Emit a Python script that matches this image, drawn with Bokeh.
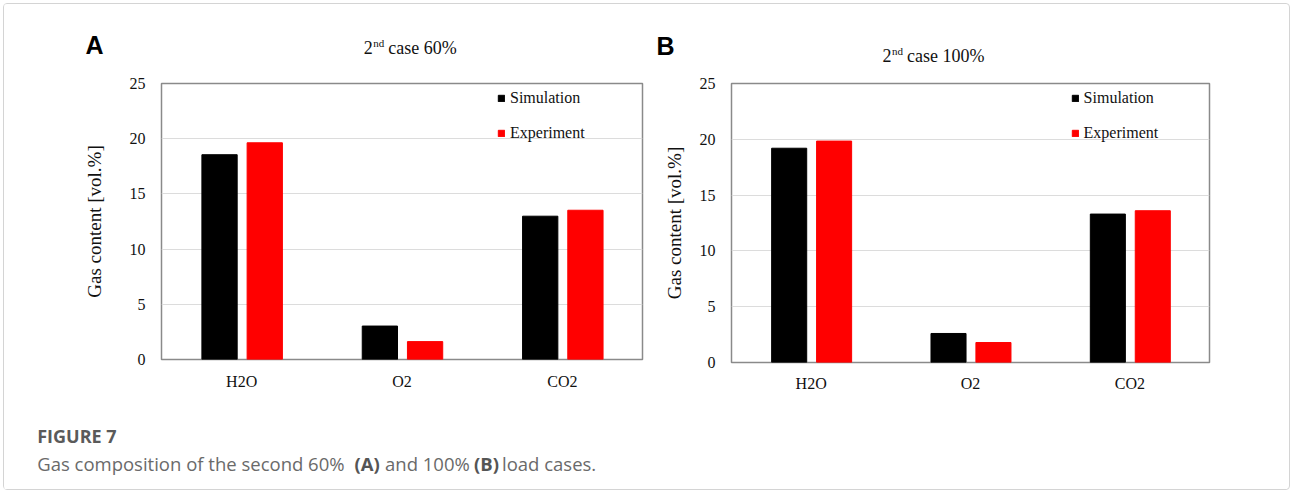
from bokeh.plotting import figure
from bokeh.models import (Range1d, FactorRange, FixedTicker, Legend, LegendItem,
                          Label, ColumnDataSource)
from bokeh.transform import dodge
from bokeh.layouts import row, column
from bokeh.embed import file_html
from bokeh.resources import INLINE

# ---------------- data ----------------
gases = ["H2O", "O2", "CO2"]
sim_60 = [18.55, 3.03, 12.98]
exp_60 = [19.63, 1.62, 13.52]
sim_100 = [19.2, 2.6, 13.3]
exp_100 = [19.84, 1.79, 13.6]
y_ticks = [0, 5, 10, 15, 20, 25]
series_names = ["Simulation", "Experiment"]
series_colors = ["#000000", "#ff0000"]
panel_letters = ["A", "B"]
panel_titles = ["case 60%", "case 100%"]
y_title = "Gas content [vol.%]"
caption_head = "FIGURE 7"
caption_parts = ["Gas composition of the second 60%", "(A)", "and 100%", "(B)", "load cases."]

SERIF = "Liberation Serif"
SANS = "Liberation Sans"
CAP = "Open Sans"
W = 1283


def make_panel(sim, exp, g):
    src = ColumnDataSource(dict(gas=gases, sim=sim, exp=exp))
    p = figure(title=None, x_range=FactorRange(*gases), y_range=Range1d(0, 25),
               frame_width=g["fw"], frame_height=g["fh"],
               min_border_left=g["bl"], min_border_right=g["br"],
               min_border_top=g["bt"], min_border_bottom=g["bb"],
               output_backend="svg", toolbar_location=None,
               background_fill_color="white", border_fill_color="white")
    r1 = p.vbar(x=dodge("gas", -0.138, range=p.x_range), top="sim", width=0.22,
                source=src, fill_color=series_colors[0], line_color=series_colors[0])
    r2 = p.vbar(x=dodge("gas", 0.144, range=p.x_range), top="exp", width=0.22,
                source=src, fill_color=series_colors[1], line_color=series_colors[1])

    p.outline_line_color = "#8a8a8a"
    p.outline_line_width = 1.5
    p.xgrid.grid_line_color = None
    p.ygrid.grid_line_color = "#dcdcdc"
    p.ygrid.grid_line_width = 1
    p.yaxis.ticker = FixedTicker(ticks=y_ticks)
    for ax in (p.xaxis[0], p.yaxis[0]):
        ax.axis_line_color = None
        ax.major_tick_line_color = None
        ax.minor_tick_line_color = None
        ax.major_label_text_font = SERIF
        ax.major_label_text_font_size = "16px"
        ax.major_label_text_color = "#111111"
    p.yaxis.major_label_standoff = g["ystand"]
    p.xaxis.major_label_standoff = g["xstand"]
    p.yaxis.axis_label = y_title
    p.yaxis.axis_label_text_font = SERIF
    p.yaxis.axis_label_text_font_size = "19px"
    p.yaxis.axis_label_text_font_style = "normal"
    p.yaxis.axis_label_text_color = "#111111"
    p.yaxis.axis_label_standoff = g["lstand"]

    leg = Legend(items=[LegendItem(label=series_names[0], renderers=[r1]),
                        LegendItem(label=series_names[1], renderers=[r2])],
                 location=g["legloc"], orientation="vertical",
                 padding=0, margin=0, spacing=15,
                 glyph_width=8, glyph_height=8, label_height=20,
                 label_standoff=5, label_text_font=SERIF,
                 label_text_font_size="16px", label_text_color="#111111",
                 border_line_color=None, background_fill_alpha=0)
    p.add_layout(leg)
    return p


gA = dict(fw=481, fh=276, bl=157, br=18, bt=12, bb=42, ystand=10, xstand=7,
          lstand=22, legloc=(336, 216))
gB = dict(fw=478, fh=279, bl=69, br=80, bt=16, bb=35, ystand=10, xstand=6,
          lstand=12, legloc=(339.6, 219))

pA = make_panel(sim_60, exp_60, gA)
pB = make_panel(sim_100, exp_100, gB)


def bare(h):
    return figure(title=None, width=W, height=h, x_range=Range1d(0, W),
                  y_range=Range1d(0, h), x_axis_type=None, y_axis_type=None,
                  min_border=0, output_backend="svg", toolbar_location=None,
                  outline_line_color=None, background_fill_color="white",
                  border_fill_color="white")


# ---------------- header: panel letters and titles ----------------
pH = bare(63)
for letter, (lx, ly) in zip(panel_letters, [(81, 22.7), (652, 22)]):
    pH.add_layout(Label(x=lx, y=ly, x_units="screen", y_units="screen", text=letter,
                        text_font=SANS, text_font_style="bold", text_font_size="25px",
                        text_baseline="alphabetic", text_color="black"))
for rest, (tx, ty) in zip(panel_titles, [(359.3, 19.7), (878, 11.7)]):
    pH.add_layout(Label(x=tx, y=ty, x_units="screen", y_units="screen", text="2",
                        text_font=SERIF, text_font_size="18px",
                        text_baseline="alphabetic", text_color="#111111"))
    pH.add_layout(Label(x=tx + 9.4, y=ty + 5, x_units="screen", y_units="screen",
                        text="nd", text_font=SERIF, text_font_size="11px",
                        text_baseline="alphabetic", text_color="#111111"))
    pH.add_layout(Label(x=tx + 24.5, y=ty, x_units="screen", y_units="screen",
                        text=rest, text_font=SERIF, text_font_size="18px",
                        text_baseline="alphabetic", text_color="#111111"))

# ---------------- caption ----------------
pC = bare(92)
pC.add_layout(Label(x=32.7, y=53.3, x_units="screen", y_units="screen",
                    text=caption_head, text_font=CAP, text_font_style="bold",
                    text_font_size="18px", text_color="#5a5a5a",
                    text_baseline="alphabetic"))
for txt, sx, style in zip(caption_parts, [32.7, 350.0, 380.5, 469.5, 497.5],
                          ["normal", "bold", "normal", "bold", "normal"]):
    pC.add_layout(Label(x=sx, y=26.5, x_units="screen", y_units="screen", text=txt,
                        text_font=CAP, text_font_style=style, text_font_size="18.5px",
                        text_color="#6a6a6a" if style == "normal" else "#555555",
                        text_baseline="alphabetic"))

layout = column(pH, row(pA, pB), pC,
                styles={"border": "1px solid #d4d4d4", "border-radius": "4px",
                        "margin": "3px"})

open("out.html", "w").write(file_html(layout, INLINE))
